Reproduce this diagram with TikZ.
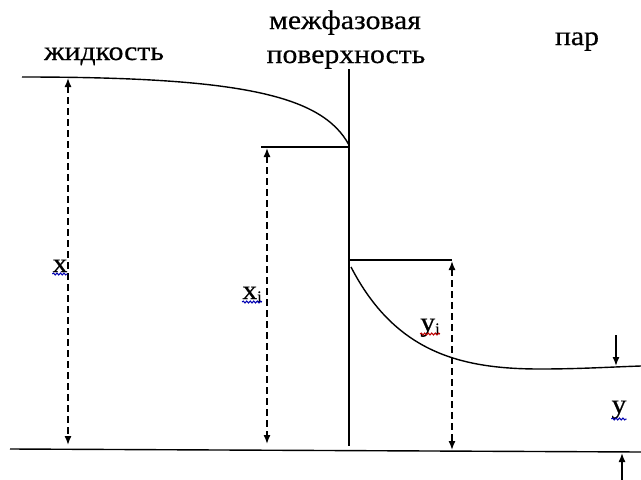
\documentclass[tikz,border=0pt]{standalone}
\usepackage{fontspec}
\setmainfont{Liberation Serif}
\newfontfamily\heavyserif[FakeBold=0.5]{Liberation Serif}
\newcommand{\wide}[1]{\scalebox{1.1}[1]{#1}}
\usetikzlibrary{arrows.meta,decorations.pathmorphing}
\begin{document}
\begin{tikzpicture}[x=1pt,y=-1pt,
  lbl/.style={inner sep=0pt,font=\heavyserif\fontsize{27}{32}\selectfont},
  sym/.style={inner sep=0pt,font=\heavyserif\fontsize{27}{32}\selectfont},
  solidline/.style={line width=1.4pt},
  dimarrow/.style={line width=1.4pt,dash pattern=on 7pt off 4pt,{Latex[length=9pt,width=7pt]}-{Latex[length=9pt,width=7pt]}},
  tick/.style={line width=1.4pt,-{Latex[length=9pt,width=7pt]}},
  wavy/.style={line width=1pt,decorate,decoration={snake,amplitude=1pt,segment length=3.5pt}}]
\useasboundingbox (0,0) rectangle (641,480);
% labels
\node[lbl,anchor=base] (liq) at (104,60) {\wide{жидкость}};
\node[lbl,anchor=base] (mf1) at (345,29) {\wide{межфазовая}};
\node[lbl,anchor=base] (mf2) at (346,63) {\wide{поверхность}};
\node[lbl,anchor=base] (vap) at (577,45) {\wide{пар}};
% coordinates
\coordinate (L0) at (22,77);
\coordinate (Li) at (349,145);
\coordinate (Itop) at (349,69);
\coordinate (Ibot) at (349,446);
\coordinate (XiL) at (261,147);
\coordinate (XiR) at (349,147);
\coordinate (B0) at (10,449);
\coordinate (B1) at (641,452);
\coordinate (YiL) at (350,260);
\coordinate (YiR) at (452,260);
\coordinate (V0) at (351,267);
\coordinate (V1) at (540,369);
\coordinate (V2) at (641,366);
% lines
\draw[solidline] (Itop) -- (Ibot);
\draw[solidline] (B0) -- (B1);
\draw[solidline] (L0) .. controls (240,77) and (322,95) .. (Li);
\draw[solidline] (XiL) -- (XiR);
\draw[solidline] (YiL) -- (YiR);
\draw[solidline] (V0) .. controls (395,352) and (460,369) .. (V1) .. controls (580,369) and (610,367) .. (V2);
% dimension arrows
\coordinate (xT) at (68,78);
\coordinate (xB) at (68,445);
\coordinate (xiT) at (267,148);
\coordinate (xiB) at (267,444);
\coordinate (yiT) at (452,261);
\coordinate (yiB) at (452,450);
\draw[dimarrow] (xT) -- (xB);
\draw[dimarrow] (xiT) -- (xiB);
\draw[dimarrow] (yiT) -- (yiB);
\coordinate (ydT) at (616,335);
\coordinate (ydB) at (616,366);
\coordinate (yuB) at (622,480);
\coordinate (yuT) at (622,453);
\draw[tick] (ydT) -- (ydB);
\draw[tick] (yuB) -- (yuT);
% symbols
\node[sym,anchor=base] (xl) at (60,272) {\wide{x}};
\node[sym,anchor=base] (xil) at (252,299) {\wide{x}\raisebox{-3pt}{\fontsize{16}{19}\selectfont i}};
\node[sym,anchor=base] (yil) at (430,331) {\wide{y}\raisebox{-3pt}{\fontsize{16}{19}\selectfont i}};
\node[sym,anchor=base] (yl) at (619,413) {\wide{y}};
\draw[wavy,blue!70!black] ([yshift=-2pt]xl.base west) -- ([yshift=-2pt]xl.base east);
\draw[wavy,blue!70!black] ([yshift=-3pt]xil.base west) -- ([yshift=-3pt]xil.base east);
\draw[wavy,red!75!black] ([yshift=-3pt]yil.base west) -- ([yshift=-3pt]yil.base east);
\draw[wavy,blue!70!black] ([yshift=-6pt]yl.base west) -- ([yshift=-6pt]yl.base east);
\end{tikzpicture}
\end{document}
